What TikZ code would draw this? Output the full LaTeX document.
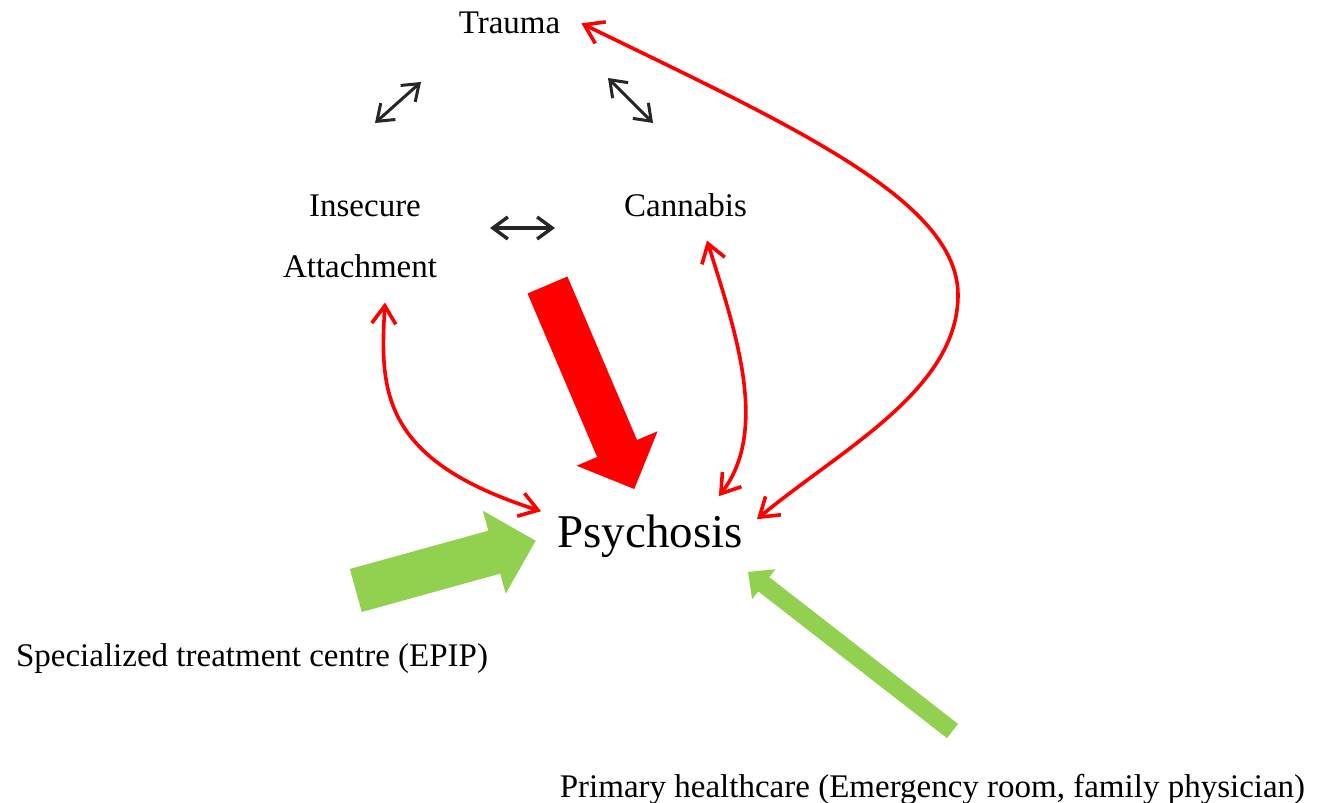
\documentclass[tikz,border=0pt]{standalone}
\usepackage{fontspec}
\setmainfont{Liberation Serif}
\usetikzlibrary{arrows.meta,calc}
\definecolor{riskred}{HTML}{FF0000}
\definecolor{caregreen}{HTML}{92D050}
% Block arrow: tail, tip, shaft half width, head half width, head length, colour.
\newcommand{\BlockArrow}[6]{%
  \coordinate (head) at ($(#2)!#5!(#1)$);
  \fill[#6] ($(#1)!#3!90:(#2)$)--($(head)!#3!90:(#2)$)
    --($(head)!#4!90:(#2)$)--(#2)--($(head)!#4!-90:(#2)$)
    --($(head)!#3!-90:(#2)$)--($(#1)!#3!-90:(#2)$)--cycle;
}

\begin{document}
\begin{tikzpicture}[x=1pt,y=-1pt,
 lbl/.style={font=\fontsize{33}{40}\selectfont,inner sep=0pt,anchor=base},
 link/.style={riskred,line width=3.6pt,>={Straight Barb[length=18pt,width=24pt]},<->},
 assoc/.style={black!85,line width=3pt,>={Straight Barb[length=15pt,width=22pt]},<->}]
\useasboundingbox (0,0) rectangle (1328,803);

\node[lbl] (trauma) at (509.5,33) {Trauma};
\node[lbl] (insecure) at (365,216) {Insecure};
\node[lbl] (attach) at (360,277) {Attachment};
\node[lbl] (cannabis) at (685.5,216) {Cannabis};
\node[lbl,font=\fontsize{47}{56}\selectfont] (psych) at (650,547) {Psychosis};
\node[lbl] (epip) at (252,666) {Specialized treatment centre (EPIP)};
\node[lbl] (phc) at (932.5,797) {Primary healthcare (Emergency room, family physician)};

% Associations between the three risk factors.
\coordinate (TA1) at (375,123);
\coordinate (TA2) at (421,82);
\coordinate (TC1) at (608,78);
\coordinate (TC2) at (653,123);
\coordinate (AC1) at (490,228);
\coordinate (AC2) at (555,228);
\draw[assoc] (TA1)--(TA2);
\draw[assoc] (TC1)--(TC2);
\draw[assoc,line width=3.4pt] (AC1)--(AC2);

% Red links to psychosis
\draw[link] ([shift={(25,25)}]attach.south)
  .. controls (380,390) and (380,460) .. ([shift={(-16,-3)}]psych.north west);
\draw[link] ([shift={(21.5,24)}]cannabis.south)
  .. controls (735,330) and (770,430) .. ([shift={(-24,-18)}]psych.north east);
\draw[link] ([shift={(21,1)}]trauma.east)
  .. controls (790,125) and (958,200) .. (958,295)
  .. controls (958,390) and (840,450) .. ([shift={(14,5)}]psych.north east);

% Block arrows
\coordinate (riskTail) at (547.5,285);
\coordinate (riskTip) at (634.3,489);
\coordinate (epipTail) at (355.8,590.5);
\coordinate (epipTip) at (535.7,540.7);
\coordinate (phcTail) at (952.5,731);
\coordinate (phcTip) at (748,572);
\BlockArrow{riskTail}{riskTip}{21.7pt}{44pt}{44pt}{riskred}
\BlockArrow{epipTail}{epipTip}{22.3pt}{43pt}{43pt}{caregreen}
\BlockArrow{phcTail}{phcTip}{9pt}{19pt}{20pt}{caregreen}
\end{tikzpicture}
\end{document}
